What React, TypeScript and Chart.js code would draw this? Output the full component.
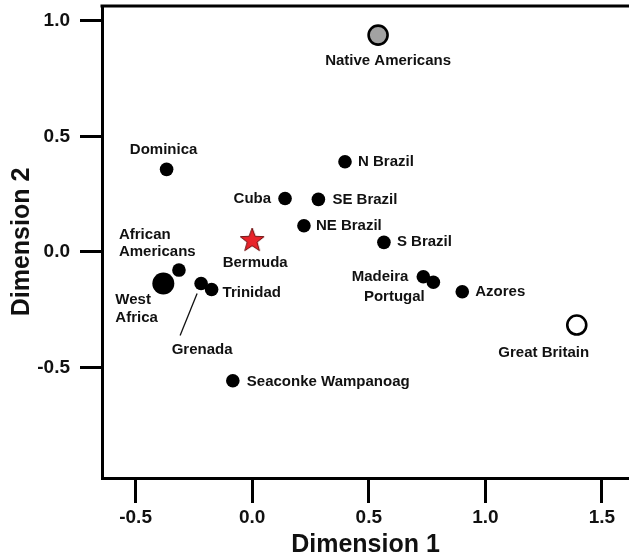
import React, { useEffect, useRef } from "react";
import { Chart, registerables } from "chart.js";

Chart.register(...registerables);

// ---- data ----
const populations = [
  "Native Americans",
  "Dominica",
  "Cuba",
  "SE Brazil",
  "N Brazil",
  "NE Brazil",
  "S Brazil",
  "Bermuda",
  "African Americans",
  "West Africa",
  "Grenada",
  "Trinidad",
  "Seaconke Wampanoag",
  "Madeira",
  "Portugal",
  "Azores",
  "Great Britain",
];
const dimension1 = [0.54, -0.367, 0.141, 0.284, 0.398, 0.222, 0.565, 0.0, -0.314, -0.381, -0.219, -0.174, -0.083, 0.734, 0.777, 0.901, 1.392];
const dimension2 = [0.938, 0.357, 0.231, 0.227, 0.39, 0.113, 0.041, 0.051, -0.079, -0.137, -0.137, -0.163, -0.558, -0.108, -0.132, -0.173, -0.317];
const xTickValues = [-0.5, 0, 0.5, 1, 1.5];
const yTickValues = [-0.5, 0, 0.5, 1];
const xTitle = "Dimension 1";
const yTitle = "Dimension 2";

// ---- styling / layout (not data) ----
const FONT = "'Liberation Sans', Arial, Helvetica, sans-serif";
const markerKind: Record<string, string> = {
  "Native Americans": "grey",
  "Great Britain": "open",
  Bermuda: "star",
  "West Africa": "large",
};
type Lbl = { dx: number; dy: number; align: CanvasTextAlign; lines?: string[]; lh?: number };
const labelLayout: Record<string, Lbl> = {
  "Native Americans": { dx: 10, dy: 26, align: "center" },
  Dominica: { dx: -3, dy: -19, align: "center" },
  Cuba: { dx: -14, dy: 0, align: "right" },
  "SE Brazil": { dx: 14, dy: 0, align: "left" },
  "N Brazil": { dx: 13, dy: 0, align: "left" },
  "NE Brazil": { dx: 12, dy: 0, align: "left" },
  "S Brazil": { dx: 13, dy: 0, align: "left" },
  Bermuda: { dx: 3, dy: 23, align: "center" },
  "African Americans": { dx: -60, dy: -35, align: "left", lines: ["African", "Americans"], lh: 17 },
  "West Africa": { dx: -48, dy: 16, align: "left", lines: ["West", "Africa"], lh: 18 },
  Grenada: { dx: 1, dy: 66, align: "center" },
  Trinidad: { dx: 11, dy: 3, align: "left" },
  "Seaconke Wampanoag": { dx: 14, dy: 1, align: "left" },
  Madeira: { dx: -15, dy: 0, align: "right" },
  Portugal: { dx: -39, dy: 15, align: "center" },
  Azores: { dx: 13, dy: 0, align: "left" },
  "Great Britain": { dx: -33, dy: 28, align: "center" },
};

function makeStar(): HTMLCanvasElement {
  const c = document.createElement("canvas");
  c.width = 28;
  c.height = 28;
  const g = c.getContext("2d")!;
  const cx = 14, cy = 14.5, R = 12.5, r = 5.2;
  g.beginPath();
  for (let i = 0; i < 10; i++) {
    const rad = i % 2 === 0 ? R : r;
    const a = -Math.PI / 2 + (i * Math.PI) / 5;
    const px = cx + rad * Math.cos(a);
    const py = cy + rad * Math.sin(a);
    if (i === 0) g.moveTo(px, py);
    else g.lineTo(px, py);
  }
  g.closePath();
  g.fillStyle = "#e8232a";
  g.fill();
  g.strokeStyle = "#6b0a0a";
  g.lineWidth = 1;
  g.stroke();
  return c;
}

const annotationPlugin = {
  id: "annotations",
  afterDatasetsDraw(chart: any) {
    const ctx = chart.ctx as CanvasRenderingContext2D;
    const meta = chart.getDatasetMeta(0);
    ctx.save();
    // top frame line
    const { left, right, top } = chart.chartArea;
    ctx.strokeStyle = "#000";
    ctx.lineWidth = 3;
    ctx.beginPath();
    ctx.moveTo(left - 1.5, top);
    ctx.lineTo(right, top);
    ctx.stroke();
    // leader line for Grenada
    const gi = populations.indexOf("Grenada");
    const ge = meta.data[gi];
    ctx.lineWidth = 1.3;
    ctx.strokeStyle = "#111";
    ctx.beginPath();
    ctx.moveTo(ge.x - 4, ge.y + 10);
    ctx.lineTo(ge.x - 21, ge.y + 52);
    ctx.stroke();
    // labels
    ctx.font = `bold 15px ${FONT}`;
    ctx.fillStyle = "#111";
    ctx.textBaseline = "middle";
    populations.forEach((name, i) => {
      const el = meta.data[i];
      const L = labelLayout[name];
      const lines = L.lines ?? [name];
      ctx.textAlign = L.align;
      lines.forEach((t, k) => ctx.fillText(t, el.x + L.dx, el.y + L.dy + k * (L.lh ?? 17)));
    });
    ctx.restore();
  },
};

export default function App() {
  const ref = useRef<HTMLCanvasElement | null>(null);
  useEffect(() => {
    if (!ref.current) return;
    const star = makeStar();
    const kinds = populations.map((p) => markerKind[p] ?? "normal");
    const chart = new Chart(ref.current, {
      type: "scatter",
      data: {
        datasets: [
          {
            label: "Populations",
            data: dimension1.map((x, i) => ({ x, y: dimension2[i] })),
            pointStyle: kinds.map((k) => (k === "star" ? star : "circle")) as any,
            pointRadius: kinds.map((k) => (k === "large" ? 11 : k === "grey" || k === "open" ? 9.5 : k === "star" ? 12 : 6.8)),
            pointBackgroundColor: kinds.map((k) => (k === "grey" ? "#a2a2a2" : k === "open" ? "#ffffff" : "#000000")),
            pointBorderColor: "#000000",
            pointBorderWidth: kinds.map((k) => (k === "grey" || k === "open" ? 2.6 : 0)),
            pointHoverRadius: 0,
          },
        ],
      },
      options: {
        responsive: false,
        animation: false,
        events: [],
        layout: { autoPadding: false, padding: { top: 6, right: 0, left: 0, bottom: 0 } },
        plugins: { legend: { display: false }, tooltip: { enabled: false } },
        scales: {
          x: {
            type: "linear",
            min: -0.644,
            max: 1.616,
            afterBuildTicks: (s: any) => {
              s.ticks = xTickValues.map((v) => ({ value: v }));
            },
            afterFit: (s: any) => {
              s.height = 82;
              s.paddingLeft = 0;
              s.paddingRight = 0;
            },
            grid: { drawOnChartArea: false, drawTicks: true, tickLength: 25, tickWidth: 3, tickColor: "#000" },
            border: { display: true, width: 3, color: "#000" },
            ticks: {
              color: "#111",
              padding: 3,
              maxRotation: 0,
              font: { family: FONT, size: 19, weight: "bold" },
              callback: (v: any) => Number(v).toFixed(1),
            },
            title: {
              display: true,
              text: xTitle,
              color: "#111",
              padding: { top: 0, bottom: 0 },
              font: { family: FONT, size: 25, weight: "bold" },
            },
          },
          y: {
            type: "linear",
            min: -0.979,
            max: 1.064,
            afterBuildTicks: (s: any) => {
              s.ticks = yTickValues.map((v) => ({ value: v }));
            },
            afterFit: (s: any) => {
              s.width = 102;
              s.paddingTop = 0;
              s.paddingBottom = 0;
            },
            grid: { drawOnChartArea: false, drawTicks: true, tickLength: 22, tickWidth: 3, tickColor: "#000" },
            border: { display: true, width: 3, color: "#000" },
            ticks: {
              color: "#111",
              padding: 10,
              font: { family: FONT, size: 19, weight: "bold" },
              callback: (v: any) => Number(v).toFixed(1),
            },
            title: {
              display: true,
              text: yTitle,
              color: "#111",
              padding: { top: 7, bottom: 0 },
              font: { family: FONT, size: 25, weight: "bold" },
            },
          },
        },
      },
      plugins: [annotationPlugin],
    });
    return () => chart.destroy();
  }, []);
  return (
    <div style={{ position: "fixed", left: 0, top: 0, width: 629, height: 560, background: "#fff" }}>
      <canvas ref={ref} width={629} height={560} style={{ display: "block" }} />
    </div>
  );
}
